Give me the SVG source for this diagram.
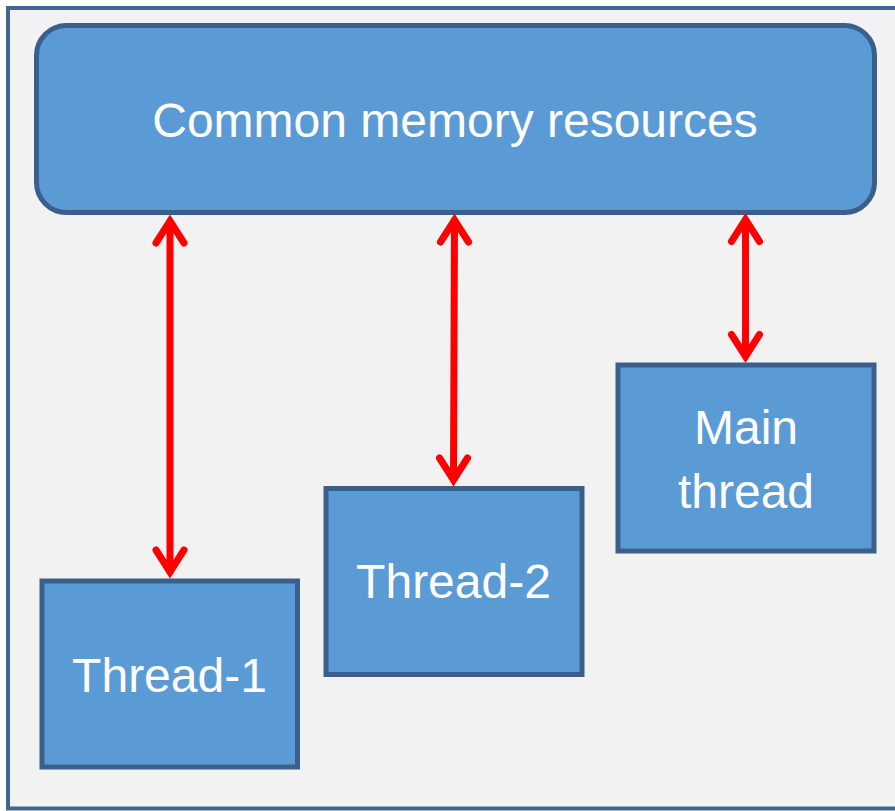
<svg xmlns="http://www.w3.org/2000/svg" width="895" height="811" viewBox="0 0 895 811">
  <style>
    .frame { fill: #f2f2f2; stroke: #41668f; stroke-width: 4; }
    .box { fill: #5b9bd5; stroke: #3a5f8a; stroke-width: 5; }
    .label { font-family: "Liberation Sans", Arial, sans-serif; font-size: 48px; fill: #ffffff; text-anchor: middle; }
    .link { fill: none; stroke: #ff0000; stroke-width: 7; stroke-linecap: round; stroke-linejoin: miter; }
  </style>
  <rect width="895" height="811" fill="#ffffff"/>
  <!-- outer frame -->
  <rect class="frame" x="8" y="8" width="900" height="800.5"/>

  <g id="memory">
    <rect class="box" x="36.5" y="25.5" width="838" height="187" rx="30" ry="30"/>
    <text class="label" x="455" y="137">Common memory resources</text>
  </g>

  <g id="thread1">
    <rect class="box" x="42" y="581" width="255.5" height="186"/>
    <text class="label" x="169.5" y="692">Thread-1</text>
  </g>

  <g id="thread2">
    <rect class="box" x="326" y="488.5" width="256" height="186"/>
    <text class="label" x="453.5" y="598">Thread-2</text>
  </g>

  <g id="main-thread">
    <rect class="box" x="618" y="365" width="256" height="186"/>
    <text class="label" x="746" y="444">Main</text>
    <text class="label" x="746" y="508">thread</text>
  </g>

  <!-- double-headed connectors -->
  <g id="connectors">
    <path class="link" d="M170 221 V572 M156 243 L170 221 L184 243 M156 550 L170 572 L184 550"/>
    <path class="link" d="M454.5 220 L453.5 480 M440.5 242 L454.5 220 L468.5 242 M439.5 458 L453.5 480 L467.5 458"/>
    <path class="link" d="M745.5 219.5 V356.5 M731.5 241.5 L745.5 219.5 L759.5 241.5 M731.5 334.5 L745.5 356.5 L759.5 334.5"/>
  </g>
</svg>
